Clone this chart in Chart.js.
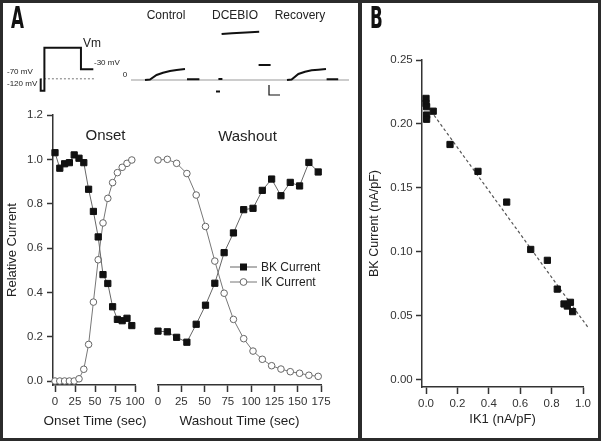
<!DOCTYPE html>
<html><head><meta charset="utf-8">
<script src="https://cdn.jsdelivr.net/npm/chart.js@4.4.1/dist/chart.umd.min.js"></script>
<style>
html,body{margin:0;padding:0;background:#fff;}
#fig{position:relative;width:601px;height:441px;overflow:hidden;font-family:"Liberation Sans",Arial,sans-serif;color:#222;background:#fff;}
canvas{position:absolute;}
.t{position:absolute;white-space:nowrap;line-height:1;}
.c{transform:translate(-50%,-50%);}
.l{transform:translateY(-50%);}
.frame{position:absolute;left:0;top:0;width:601px;height:441px;box-sizing:border-box;border:3px solid #2b2b2b;pointer-events:none;z-index:10;}
.divider{position:absolute;left:358px;top:0;width:4px;height:441px;background:#2b2b2b;z-index:10;}
.panel{position:absolute;font-family:"Liberation Sans Narrow","DejaVu Sans Condensed",sans-serif;font-weight:bold;font-size:30px;line-height:1;transform:scaleX(0.62);transform-origin:left top;color:#111;}
.leg{position:absolute;display:flex;align-items:center;font-size:12px;line-height:1;transform:translateY(-50%);}
.leg svg{margin-right:4px;}
</style></head>
<body>
<div id="fig">
  <canvas id="inset" width="360" height="110" style="left:0;top:0"></canvas>
  <canvas id="onset" width="150" height="441" style="left:0;top:0"></canvas>
  <canvas id="wash" width="215" height="441" style="left:145px;top:0"></canvas>
  <canvas id="corr" width="241" height="441" style="left:360px;top:0"></canvas>

  <div class="panel" style="left:11px;top:3px">A</div>
  <div class="panel" style="left:370px;top:3px">B</div>

  <div class="t c" style="left:166px;top:15px;font-size:12px">Control</div>
  <div class="t c" style="left:235px;top:15px;font-size:12px">DCEBIO</div>
  <div class="t c" style="left:300px;top:15px;font-size:12px">Recovery</div>
  <div class="t l" style="left:83px;top:43px;font-size:12px">Vm</div>
  <div class="t l" style="left:94px;top:63px;font-size:8px">-30 mV</div>
  <div class="t l" style="left:7px;top:72px;font-size:8px">-70 mV</div>
  <div class="t l" style="left:7px;top:84px;font-size:8px">-120 mV</div>
  <div class="t c" style="left:125px;top:75px;font-size:8px">0</div>

  <div class="t c" style="left:105.5px;top:134px;font-size:15px">Onset</div>
  <div class="t c" style="left:247.5px;top:135px;font-size:15px">Washout</div>
  <div class="t c" style="left:95px;top:421px;font-size:13.5px">Onset Time (sec)</div>

  <div id="legend"></div>

  <div class="divider"></div>
  <div class="frame"></div>
</div>
<script>
// ===== Panel A: relative current vs time =====
const onsetTime = [0,6,12,18,24,30,36,42,48,54,60,66,72,78,84,90,96];
const onsetBK   = [1.03,0.96,0.98,0.985,1.02,1.005,0.985,0.865,0.765,0.65,0.48,0.44,0.335,0.278,0.272,0.283,0.25];
const onsetIK   = [0,0,0,0,0,0.01,0.053,0.165,0.356,0.547,0.713,0.824,0.895,0.94,0.964,0.982,0.997];
const washTime  = [0,10,20,31,41,51,61,71,81,92,102,112,122,132,142,152,162,172];
const washBK    = [0.225,0.222,0.197,0.175,0.256,0.342,0.441,0.579,0.668,0.773,0.779,0.86,0.911,0.836,0.896,0.88,0.986,0.943];
const washIK    = [0.997,1.0,0.982,0.936,0.839,0.697,0.541,0.396,0.278,0.191,0.135,0.098,0.069,0.054,0.042,0.035,0.026,0.021];
const relTicks   = [0,0.2,0.4,0.6,0.8,1.0,1.2];
const onsetTicks = [0,25,50,75,100];
const washTicks  = [0,25,50,75,100,125,150,175];
const seriesNames = ['BK Current','IK Current'];

// ===== Panel B: BK vs IK1 =====
const ik1 = [0,0,0.004,0.004,0.004,0.046,0.153,0.331,0.514,0.667,0.773,0.836,0.879,0.9,0.92,0.934];
const bk  = [0.220,0.216,0.2135,0.207,0.2037,0.210,0.184,0.163,0.139,0.102,0.0935,0.071,0.0594,0.0578,0.0607,0.0534];
const fitX = [0.01,1.03];
const fitY = [0.2138,0.0414];
const bkTicks  = [0,0.05,0.10,0.15,0.20,0.25];
const ik1Ticks = [0,0.2,0.4,0.6,0.8,1.0];

// ===== Inset: voltage protocol (ms, mV) and current sweeps (ms, nA) =====
const protoT = [0,0,14,14,153,153,200];
const protoV = [-70,-120,-120,60,60,-30,-30];
const restT = [-3,207];
const restV = -70;
const sweepOffset = [0,355,710];
const controlT = [0,25,58,90,125,158,200,205,210,272];
const controlI = [0,0.05,0.5,0.73,0.9,1.0,1.1,null,0.07,0.07];
const dcebioT  = [0,20,21,12,32,33,28,80,150,216,217,213,273];
const dcebioI  = [-1.15,-1.15,null,0.1,0.1,null,4.6,4.68,4.76,4.83,null,1.5,1.5];
const recovT   = [0,23,57,90,123,157,195,197,198,256];
const recovI   = [0,0.05,0.6,0.83,0.97,1.03,1.1,null,0.07,0.07];
const baseT = [-70,1020];
const barT = [620,620,675];
const barI = [-0.5,-1.5,-1.5];

const FONT = '"Liberation Sans", Arial, sans-serif';
Chart.defaults.font.family = FONT;
Chart.defaults.color = '#333';

const pts = (xs, ys) => xs.map((x,i) => ({x, y: ys[i]}));
const fixTicks = arr => (s => { s.ticks = arr.map(v => ({value:v})); });
const axisStyle = (tl) => ({
  grid:{display:true, drawOnChartArea:false, drawTicks:true, tickLength:tl, tickColor:'#333', tickWidth:1.5},
  border:{display:true, color:'#333', width:1.5}
});
const tickFont = {size:11.5, family:FONT};

const bkStyle = {pointStyle:'rect', pointRadius:4.4, pointBackgroundColor:'#111', pointBorderColor:'#111', pointBorderWidth:1,
  borderColor:'#666', borderWidth:1, tension:0, clip:false, showLine:true};
const ikStyle = {pointStyle:'circle', pointRadius:3.3, pointBackgroundColor:'#fff', pointBorderColor:'#666', pointBorderWidth:1,
  borderColor:'#777', borderWidth:1, tension:0, clip:false, showLine:true};

const common = {responsive:false, animation:false, devicePixelRatio:1,
  plugins:{legend:{display:false}, tooltip:{enabled:false}}, events:[]};

// ---- Onset chart ----
const onsetChart = new Chart(document.getElementById('onset'), {
  type:'line',
  data:{datasets:[
    Object.assign({label:seriesNames[0], data:pts(onsetTime, onsetBK)}, bkStyle),
    Object.assign({label:seriesNames[1], data:pts(onsetTime, onsetIK)}, ikStyle)
  ]},
  options:Object.assign({}, common, {
    layout:{padding:{left:0, top:115, right:15, bottom:12}},
    scales:{
      x:Object.assign({type:'linear', min:-2.5, max:100, afterBuildTicks:fixTicks(onsetTicks),
        afterFit:s => { s.height = 44; },
        ticks:{font:tickFont, color:'#333', padding:3, maxRotation:0, autoSkip:false, callback:v => String(v)},
        title:{display:false}
      }, axisStyle(7)),
      y:Object.assign({type:'linear', min:-0.018, max:1.2, afterBuildTicks:fixTicks(relTicks),
        afterFit:s => { s.width = 53; },
        ticks:{font:tickFont, color:'#333', padding:4, callback:v => v.toFixed(1)},
        title:{display:true, text:'Relative Current', font:{size:13, family:FONT}, color:'#222', padding:{top:5,bottom:0}}
      }, axisStyle(6))
    }
  })
});

// ---- Washout chart ----
const washChart = new Chart(document.getElementById('wash'), {
  type:'line',
  data:{datasets:[
    Object.assign({label:seriesNames[0], data:pts(washTime, washBK)}, bkStyle),
    Object.assign({label:seriesNames[1], data:pts(washTime, washIK)}, ikStyle)
  ]},
  options:Object.assign({}, common, {
    layout:{padding:{left:13, top:115, right:39, bottom:12}},
    scales:{
      x:Object.assign({type:'linear', min:0, max:175, afterBuildTicks:fixTicks(washTicks),
        afterFit:s => { s.height = 44; },
        ticks:{font:tickFont, color:'#333', padding:3, maxRotation:0, autoSkip:false, callback:v => String(v)},
        title:{display:true, text:'Washout Time (sec)', font:{size:13.5, family:FONT}, color:'#222', padding:{top:0,bottom:0}}
      }, axisStyle(7)),
      y:{type:'linear', display:false, min:-0.018, max:1.2}
    }
  })
});

// ---- Panel B chart ----
new Chart(document.getElementById('corr'), {
  type:'scatter',
  data:{datasets:[
    {label:'BK vs IK1', data:pts(ik1, bk), pointStyle:'rect', pointRadius:4.4, pointBackgroundColor:'#111',
      pointBorderColor:'#111', pointBorderWidth:1, showLine:false, clip:false},
    {label:'fit', data:pts(fitX, fitY), showLine:true, pointRadius:0, borderColor:'#555', borderWidth:1.2,
      borderDash:[3,2.5], clip:false}
  ]},
  options:Object.assign({}, common, {
    layout:{padding:{left:0, top:60, right:18, bottom:14}},
    scales:{
      x:Object.assign({type:'linear', min:-0.0255, max:1.0, afterBuildTicks:fixTicks(ik1Ticks),
        afterFit:s => { s.height = 40; },
        ticks:{font:tickFont, color:'#333', padding:3, maxRotation:0, autoSkip:false, callback:v => v.toFixed(1)},
        title:{display:true, text:'IK1 (nA/pF)', font:{size:13, family:FONT}, color:'#222', padding:{top:0,bottom:0}}
      }, axisStyle(7)),
      y:Object.assign({type:'linear', min:-0.00547, max:0.25, afterBuildTicks:fixTicks(bkTicks),
        afterFit:s => { s.width = 62; },
        ticks:{font:tickFont, color:'#333', padding:3.3, callback:v => v.toFixed(2)},
        title:{display:true, text:'BK Current (nA/pF)', font:{size:12.5, family:FONT}, color:'#222', padding:{top:7.5,bottom:0}}
      }, axisStyle(6))
    }
  })
});

// ---- Inset chart (protocol + current sweeps) ----
const lineDs = (data, xid, yid, extra) => Object.assign({data, xAxisID:xid, yAxisID:yid, pointRadius:0,
  borderColor:'#111', borderWidth:2, tension:0, spanGaps:false, clip:false, order:0}, extra || {});
new Chart(document.getElementById('inset'), {
  type:'line',
  data:{datasets:[
    lineDs(pts(restT, restT.map(() => restV)), 'x', 'y', {borderColor:'#777', borderWidth:1, borderDash:[2,2], order:5}),
    lineDs(pts(protoT, protoV), 'x', 'y'),
    lineDs(pts(baseT, baseT.map(() => 0)), 'x2', 'y2', {borderColor:'#999', borderWidth:1.2, order:10}),
    lineDs(pts(controlT.map(t => t + sweepOffset[0]), controlI), 'x2', 'y2'),
    lineDs(pts(dcebioT.map(t => t + sweepOffset[1]), dcebioI), 'x2', 'y2'),
    lineDs(pts(recovT.map(t => t + sweepOffset[2]), recovI), 'x2', 'y2'),
    lineDs(pts(barT, barI), 'x2', 'y2', {borderWidth:1.2})
  ]},
  options:Object.assign({}, common, {
    layout:{padding:0},
    scales:{
      x:{type:'linear', display:false, min:-154.8, max:1214},
      y:{type:'linear', display:false, min:-201.1, max:261.1},
      x2:{type:'linear', display:false, min:-725, max:1075},
      y2:{type:'linear', display:false, min:-3, max:8}
    }
  })
});

// ---- HTML legend built from the washout chart datasets ----
(function(){
  const host = document.getElementById('legend');
  const rows = [266.5, 282];
  washChart.data.datasets.forEach((ds, i) => {
    const d = document.createElement('div');
    d.className = 'leg';
    d.style.left = '230px';
    d.style.top = rows[i] + 'px';
    const marker = ds.pointStyle === 'rect'
      ? `<rect x="10" y="2.5" width="7" height="7" fill="${ds.pointBackgroundColor}"/>`
      : `<circle cx="13.5" cy="6" r="3.4" fill="${ds.pointBackgroundColor}" stroke="${ds.pointBorderColor}" stroke-width="1"/>`;
    d.innerHTML = `<svg width="27" height="12"><line x1="0" y1="6" x2="27" y2="6" stroke="${ds.borderColor}" stroke-width="1"/>${marker}</svg><span>${ds.label}</span>`;
    host.appendChild(d);
  });
})();
</script>
</body></html>
